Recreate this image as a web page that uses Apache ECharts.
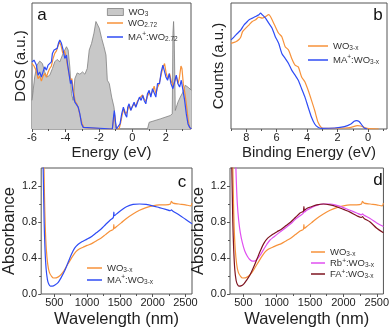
<!DOCTYPE html>
<html>
<head>
<meta charset="utf-8">
<script src="https://cdn.jsdelivr.net/npm/echarts@6/dist/echarts.min.js"></script>
<style>
    html, body { margin: 0; padding: 0; background: #fff; }
    #chart { width: 392px; height: 330px; }
</style>
</head>
<body>
<div id="chart"></div>
<script>
// ---- panel a: DOS, [energy (eV), DOS (a.u.)] ----
var dosWO3 = [[-6.0,22.7],[-5.84,41.3],[-5.70,50.7],[-5.54,53.9],[-5.38,52],[-5.24,45.3],[-5.10,41.3],[-4.94,42.7],[-4.78,48],[-4.64,53.3],[-4.50,55.2],[-4.34,53.3],[-4.18,58.7],[-4.04,62.7],[-3.94,65.3],[-3.84,62.7],[-3.74,49.3],[-3.64,28],[-3.54,22.7],[-3.44,40],[-3.30,44.5],[-3.14,43.5],[-2.98,45.3],[-2.84,43.5],[-2.70,48],[-2.58,62.7],[-2.44,68],[-2.30,76],[-2.18,85.3],[-2.08,86.1],[-1.98,80],[-1.84,72],[-1.70,65.3],[-1.58,58.7],[-1.50,38.7],[-1.38,36],[-1.24,25.3],[-1.10,17.3],[-1.00,4],[-0.94,0],[0.90,0],[1.00,5.3],[1.66,8],[2.26,10.7],[2.38,12],[2.42,76],[2.46,85.3],[2.50,70.7],[2.56,14.7],[2.72,21.3],[2.86,25.3],[3.02,29.3],[3.16,34.7],[3.26,36],[3.36,32.8],[3.52,30.7]];
var dosWO272 = [[-6.0,52],[-5.88,50],[-5.74,46],[-5.64,40],[-5.54,42],[-5.44,38],[-5.34,42],[-5.24,44],[-5.14,41],[-5.04,45],[-4.94,48],[-4.84,50],[-4.74,56],[-4.64,60],[-4.54,62],[-4.44,66],[-4.36,69],[-4.26,66],[-4.16,60],[-4.06,62],[-3.96,57],[-3.88,50],[-3.80,49],[-3.70,38],[-3.62,40],[-3.52,30],[-3.42,22],[-3.32,20],[-3.22,16],[-3.12,10],[-3.0,4],[-2.88,1],[-2.78,0],[-1.20,0],[-1.12,8],[-1.08,12],[-1.02,5],[-0.96,0],[-0.80,0],[-0.70,5],[-0.60,12],[-0.50,16],[-0.40,12],[-0.30,14],[-0.20,19],[-0.10,15],[0.0,18],[0.10,20],[0.20,18],[0.30,22],[0.40,24],[0.50,23],[0.60,27],[0.70,24],[0.80,22],[0.90,26],[1.00,29],[1.10,27],[1.20,30],[1.30,34],[1.40,28],[1.50,33],[1.60,36],[1.70,42],[1.80,48],[1.92,52],[2.02,44],[2.12,40],[2.22,44],[2.32,38],[2.42,34],[2.52,38],[2.62,42],[2.72,36],[2.80,40],[2.90,50],[2.96,48],[3.04,36],[3.14,28],[3.24,18],[3.34,6],[3.42,1],[3.52,0]];
var dosMAWO272 = [[-6.0,53.3],[-5.88,54.7],[-5.74,50.7],[-5.64,42.7],[-5.54,45.3],[-5.44,41.3],[-5.34,45.3],[-5.24,49.3],[-5.14,46.7],[-5.04,50.7],[-4.94,52],[-4.84,53.3],[-4.78,60],[-4.68,62.7],[-4.58,61.3],[-4.50,64],[-4.42,68],[-4.34,70.7],[-4.24,68],[-4.14,62.7],[-4.04,56],[-3.94,58.7],[-3.88,52],[-3.80,50.7],[-3.70,36],[-3.64,38.7],[-3.54,28],[-3.44,21.3],[-3.34,22.7],[-3.24,17.3],[-3.14,12],[-3.04,4],[-2.94,1.3],[-2.84,0],[-1.20,0],[-1.12,10.7],[-1.08,14.7],[-1.02,6.7],[-0.96,0],[-0.86,0],[-0.74,4],[-0.64,12],[-0.54,17.3],[-0.44,12],[-0.34,9.3],[-0.28,17.3],[-0.20,20],[-0.10,14.7],[0.0,16],[0.10,21.3],[0.20,17.3],[0.30,18.7],[0.42,25.3],[0.52,22.7],[0.62,26.7],[0.70,22.7],[0.80,20],[0.90,28],[1.00,30.7],[1.10,25.3],[1.20,32],[1.30,33.3],[1.40,25.3],[1.50,36],[1.62,36],[1.72,45.3],[1.82,50.7],[1.90,49.3],[2.00,41.3],[2.10,38.7],[2.20,44],[2.30,36],[2.42,32],[2.52,37.3],[2.62,42.7],[2.72,36],[2.82,33.3],[2.92,38.7],[3.02,30.7],[3.12,22.7],[3.22,12],[3.32,4],[3.42,1.3],[3.52,0]];

// ---- panel b: valence band spectra, [binding energy (eV), counts (a.u.)] ----
var vbWO3x = [[9.0,68],[8.68,69.3],[8.46,71.2],[8.35,73.3],[8.24,77.3],[8.03,80],[7.81,82.7],[7.60,85.3],[7.38,86.7],[7.17,88.8],[6.95,88],[6.73,89.3],[6.52,90.7],[6.41,89.3],[6.30,86.7],[6.09,81.3],[5.87,76],[5.66,73.3],[5.44,65.3],[5.22,62.7],[5.01,56],[4.79,50.7],[4.58,49.3],[4.36,41.3],[4.14,37.3],[3.93,30.7],[3.71,22.7],[3.50,14.7],[3.28,5.3],[3.07,1.3],[2.85,0.5],[1.55,0.8],[1.12,1.3],[0.69,2.7],[0.48,2.4],[0.26,1.3],[0.04,0.5],[-0.71,0]];
var vbMAWO3x = [[9.0,70.7],[8.78,73.3],[8.57,76],[8.35,78.7],[8.14,82.7],[7.92,85.3],[7.81,86.7],[7.60,88],[7.38,89.3],[7.17,90.7],[7.06,92],[6.95,90.7],[6.73,88],[6.52,84],[6.30,80],[6.09,73.3],[5.87,68],[5.66,60],[5.44,56],[5.22,52],[5.01,46.7],[4.79,42.7],[4.58,38.7],[4.36,32],[4.14,25.3],[3.93,17.3],[3.71,9.3],[3.50,4],[3.28,1.3],[3.07,0.5],[2.20,0.8],[1.55,1.9],[1.12,4],[0.91,6.1],[0.76,6.7],[0.58,5.9],[0.37,2.7],[0.22,0.5],[0.04,0]];

// ---- panels c, d: absorbance, [wavelength (nm), absorbance] ----
var absWO3x = [[338,1.6],[350,1.1],[362,0.75],[378,0.5],[400,0.33],[425,0.24],[455,0.2],[490,0.178],[530,0.18],[580,0.2],[630,0.24],[680,0.3],[730,0.36],[780,0.42],[830,0.47],[880,0.5],[940,0.52],[1000,0.54],[1070,0.56],[1140,0.59],[1210,0.62],[1280,0.66],[1350,0.7],[1400,0.72],[1408,0.77],[1415,0.73],[1450,0.75],[1520,0.79],[1600,0.84],[1700,0.89],[1800,0.93],[1900,0.96],[2000,0.98],[2100,0.99],[2200,0.99],[2270,1.0],[2285,1.03],[2310,1.01],[2400,1.0],[2500,0.99],[2580,0.98],[2600,1.01]];
var absMAWO3x = [[325,1.6],[335,1.2],[345,0.8],[358,0.5],[375,0.28],[395,0.16],[415,0.11],[440,0.088],[470,0.088],[510,0.1],[560,0.13],[610,0.19],[660,0.26],[710,0.35],[760,0.44],[810,0.51],[860,0.55],[920,0.58],[1000,0.61],[1070,0.64],[1140,0.68],[1210,0.72],[1280,0.77],[1350,0.82],[1400,0.85],[1408,0.91],[1415,0.87],[1450,0.89],[1520,0.93],[1600,0.97],[1700,0.995],[1800,1.0],[1900,0.995],[2000,0.98],[2100,0.96],[2200,0.94],[2270,0.925],[2285,0.935],[2310,0.92],[2400,0.88],[2500,0.83],[2600,0.78]];
var absRbWO3x = [[380,1.6],[395,1.25],[410,1.0],[430,0.82],[455,0.68],[485,0.57],[520,0.48],[560,0.42],[600,0.38],[640,0.365],[680,0.37],[720,0.4],[760,0.44],[800,0.49],[850,0.55],[900,0.6],[950,0.63],[1000,0.66],[1070,0.7],[1140,0.74],[1210,0.78],[1280,0.83],[1350,0.87],[1400,0.9],[1408,0.95],[1415,0.91],[1450,0.93],[1520,0.96],[1600,0.985],[1700,1.0],[1800,1.0],[1900,0.985],[2000,0.96],[2100,0.93],[2200,0.9],[2270,0.88],[2285,0.89],[2310,0.875],[2400,0.84],[2500,0.79],[2600,0.75]];
var absFAWO3x = [[322,1.6],[332,1.2],[342,0.8],[355,0.5],[372,0.27],[392,0.15],[412,0.105],[435,0.088],[465,0.09],[505,0.11],[555,0.16],[605,0.22],[655,0.3],[705,0.39],[755,0.48],[805,0.56],[865,0.62],[935,0.66],[1000,0.69],[1070,0.72],[1140,0.76],[1210,0.8],[1280,0.85],[1350,0.9],[1400,0.92],[1408,0.97],[1415,0.93],[1450,0.95],[1520,0.97],[1600,0.99],[1700,1.0],[1800,0.99],[1900,0.97],[2000,0.94],[2100,0.91],[2200,0.87],[2270,0.85],[2285,0.86],[2310,0.84],[2400,0.8],[2500,0.73],[2600,0.68]];

// ---- tick values ----
var energyTicks = [-6, -4, -2, 0, 2];
var energyMinor = [-5, -3, -1, 1, 3];
var bindingTicks = [8, 6, 4, 2, 0];
var bindingMinor = [9, 7, 5, 3, 1, -1];
var wlTicks = [500, 1000, 1500, 2000, 2500];
var wlMinor = [750, 1250, 1750, 2250];
var absTicks = [0, 0.4, 0.8, 1.2];
var absMinor = [0.2, 0.6, 1.0];

var FONT = 'Liberation Sans, Arial, sans-serif';
var INK = '#222';
var FRAME = '#555';
var ORANGE = '#f7923a', BLUE = '#2f4cf5', MAGENTA = '#e04ff0', DARKRED = '#7e1420';

// legend labels (rich text for sub/superscripts)
var legendText = {
    'WO3 (a)': '{n|WO}{sb|3}',
    'WO2.72 (a)': '{n|WO}{sb|2.72}',
    'MA:WO2.72 (a)': '{n|MA}{sp|+}{n|:WO}{sb|2.72}',
    'WO3-x (b)': '{n|WO}{sb|3-x}',
    'MA:WO3-x (b)': '{n|MA}{sp|+}{n|:WO}{sb|3-x}',
    'WO3-x (c)': '{n|WO}{sb|3-x}',
    'MA:WO3-x (c)': '{n|MA}{sp|+}{n|:WO}{sb|3-x}',
    'WO3-x (d)': '{n|WO}{sb|3-x}',
    'Rb:WO3-x (d)': '{n|Rb}{sp|+}{n|:WO}{sb|3-x}',
    'FA:WO3-x (d)': '{n|FA}{sp|+}{n|:WO}{sb|3-x}'
};
function richFor(lh) {
    return {
        n: { fontSize: 9.5, color: '#333', fontFamily: FONT, lineHeight: lh },
        sb: { fontSize: 6.5, color: '#333', fontFamily: FONT, lineHeight: 7, verticalAlign: 'bottom' },
        sp: { fontSize: 6.5, color: '#333', fontFamily: FONT, lineHeight: 7, verticalAlign: 'top' }
    };
}
function legendOf(names, left, top, w, lh, gap, extra) {
    var l = {
        data: names, left: left, top: top, orient: 'vertical', padding: 0,
        itemWidth: w, itemHeight: 1.5, icon: 'rect', itemGap: gap,
        selectedMode: false,
        formatter: function (name) { return legendText[name]; },
        textStyle: { fontSize: 9.5, color: '#333', fontFamily: FONT, rich: richFor(lh) }
    };
    for (var k in extra) l[k] = extra[k];
    return l;
}

var xAxes = [], yAxes = [];
function addX(g, min, max, majors, minors, name, inverse) {
    xAxes.push({
        type: 'value', gridIndex: g, position: 'bottom', min: min, max: max, inverse: !!inverse,
        axisLine: { show: false }, splitLine: { show: false },
        axisTick: { show: true, length: 3, customValues: majors, lineStyle: { color: FRAME } },
        axisLabel: { customValues: majors, margin: 3, fontSize: 11, color: INK, fontFamily: FONT,
            formatter: function (v) { return String(v); } },
        name: name, nameLocation: 'middle', nameGap: 16,
        nameTextStyle: { fontSize: 15, color: INK, fontFamily: FONT }
    });
    xAxes.push({
        type: 'value', gridIndex: g, position: 'bottom', min: min, max: max, inverse: !!inverse,
        axisLine: { show: false }, splitLine: { show: false },
        axisTick: { show: true, length: 2, customValues: minors, lineStyle: { color: FRAME } },
        axisLabel: { show: false }
    });
    return xAxes.length - 2;
}
function addY(g, min, max, majors, minors, name, gap) {
    var withTicks = !!majors;
    yAxes.push({
        type: 'value', gridIndex: g, position: 'left', min: min, max: max,
        axisLine: { show: false }, splitLine: { show: false },
        axisTick: { show: withTicks, length: 3, customValues: majors || [], lineStyle: { color: FRAME } },
        axisLabel: withTicks ? { customValues: majors, margin: 4, fontSize: 11, color: INK, fontFamily: FONT,
            formatter: function (v) { return v.toFixed(1); } } : { show: false },
        name: name, nameLocation: 'middle', nameGap: gap,
        nameTextStyle: { fontSize: 15, color: INK, fontFamily: FONT }
    });
    var idx = yAxes.length - 1;
    if (minors) {
        yAxes.push({
            type: 'value', gridIndex: g, position: 'left', min: min, max: max,
            axisLine: { show: false }, splitLine: { show: false },
            axisTick: { show: true, length: 2, customValues: minors, lineStyle: { color: FRAME } },
            axisLabel: { show: false }
        });
    }
    return idx;
}

var xa = addX(0, -6, 3.5, energyTicks, energyMinor, 'Energy (eV)');
var ya = addY(0, 0, 100, null, null, 'DOS (a.u.)', 4);
var xb = addX(1, -1.25, 9, bindingTicks, bindingMinor, 'Binding Energy (eV)', true);
var yb = addY(1, 0, 100, null, null, 'Counts (a.u.)', 5);
var xc = addX(2, 300, 2600, wlTicks, wlMinor, 'Wavelength (nm)');
var yc = addY(2, 0, 1.4, absTicks, absMinor, 'Absorbance', 18);
var xd = addX(3, 300, 2600, wlTicks, wlMinor, 'Wavelength (nm)');
var yd = addY(3, 0, 1.4, absTicks, absMinor, 'Absorbance', 18);
[xc, xd].forEach(function (i) { xAxes[i].nameTextStyle.fontSize = 16.5; xAxes[i].nameGap = 17; });
[yc, yd].forEach(function (i) { yAxes[i].nameTextStyle.fontSize = 16.5; });

function line(name, data, xi, yi, color, smooth) {
    return {
        name: name, type: 'line', data: data, xAxisIndex: xi, yAxisIndex: yi,
        symbol: 'none', smooth: smooth || false, color: color,
        lineStyle: { color: color, width: 1.2 }, emphasis: { disabled: true }
    };
}

var gridBase = { show: true, borderColor: FRAME, borderWidth: 1, backgroundColor: 'transparent' };
var option = {
    animation: false,
    grid: [
        Object.assign({ left: 32, top: 3, width: 159, height: 126 }, gridBase),
        Object.assign({ left: 231, top: 3, width: 156, height: 126 }, gridBase),
        Object.assign({ left: 33, top: 168, width: 159, height: 126 }, gridBase),
        Object.assign({ left: 230, top: 168, width: 160, height: 126 }, gridBase)
    ],
    xAxis: xAxes,
    yAxis: yAxes,
    legend: [
        legendOf([{ name: 'WO3 (a)', icon: 'rect', itemStyle: { color: '#c8c8c8', borderColor: '#808080', borderWidth: 0.8 } }],
            107, 7, 16, 12, 2, { itemHeight: 7 }),
        legendOf(['WO2.72 (a)', 'MA:WO2.72 (a)'], 107, 18, 16, 12, 2),
        legendOf(['WO3-x (b)', 'MA:WO3-x (b)'], 308, 41, 20, 12, 2),
        legendOf(['WO3-x (c)', 'MA:WO3-x (c)'], 87, 263, 15, 12, 0),
        legendOf(['WO3-x (d)', 'Rb:WO3-x (d)', 'FA:WO3-x (d)'], 311, 247, 14, 11, 0)
    ],
    graphic: [
        { type: 'text', x: 42, y: 15, style: { text: 'a', fontSize: 17, fontFamily: FONT, fill: '#111', align: 'center', verticalAlign: 'middle' } },
        { type: 'text', x: 378, y: 15, style: { text: 'b', fontSize: 17, fontFamily: FONT, fill: '#111', align: 'center', verticalAlign: 'middle' } },
        { type: 'text', x: 182, y: 182, style: { text: 'c', fontSize: 17, fontFamily: FONT, fill: '#111', align: 'center', verticalAlign: 'middle' } },
        { type: 'text', x: 378, y: 180, style: { text: 'd', fontSize: 17, fontFamily: FONT, fill: '#111', align: 'center', verticalAlign: 'middle' } }
    ],
    series: [
        {
            name: 'WO3 (a)', type: 'line', data: dosWO3, xAxisIndex: xa, yAxisIndex: ya, symbol: 'none',
            color: '#c8c8c8', lineStyle: { color: '#808080', width: 0.8 },
            areaStyle: { color: '#c8c8c8', opacity: 1 }, emphasis: { disabled: true }
        },
        line('WO2.72 (a)', dosWO272, xa, ya, ORANGE),
        line('MA:WO2.72 (a)', dosMAWO272, xa, ya, BLUE),
        line('WO3-x (b)', vbWO3x, xb, yb, ORANGE, 0.2),
        line('MA:WO3-x (b)', vbMAWO3x, xb, yb, BLUE, 0.2),
        line('WO3-x (c)', absWO3x, xc, yc, ORANGE, 0.3),
        line('MA:WO3-x (c)', absMAWO3x, xc, yc, BLUE, 0.3),
        line('WO3-x (d)', absWO3x, xd, yd, ORANGE, 0.3),
        line('Rb:WO3-x (d)', absRbWO3x, xd, yd, MAGENTA, 0.3),
        line('FA:WO3-x (d)', absFAWO3x, xd, yd, DARKRED, 0.3)
    ]
};

echarts.init(document.getElementById('chart')).setOption(option);
</script>
</body>
</html>
